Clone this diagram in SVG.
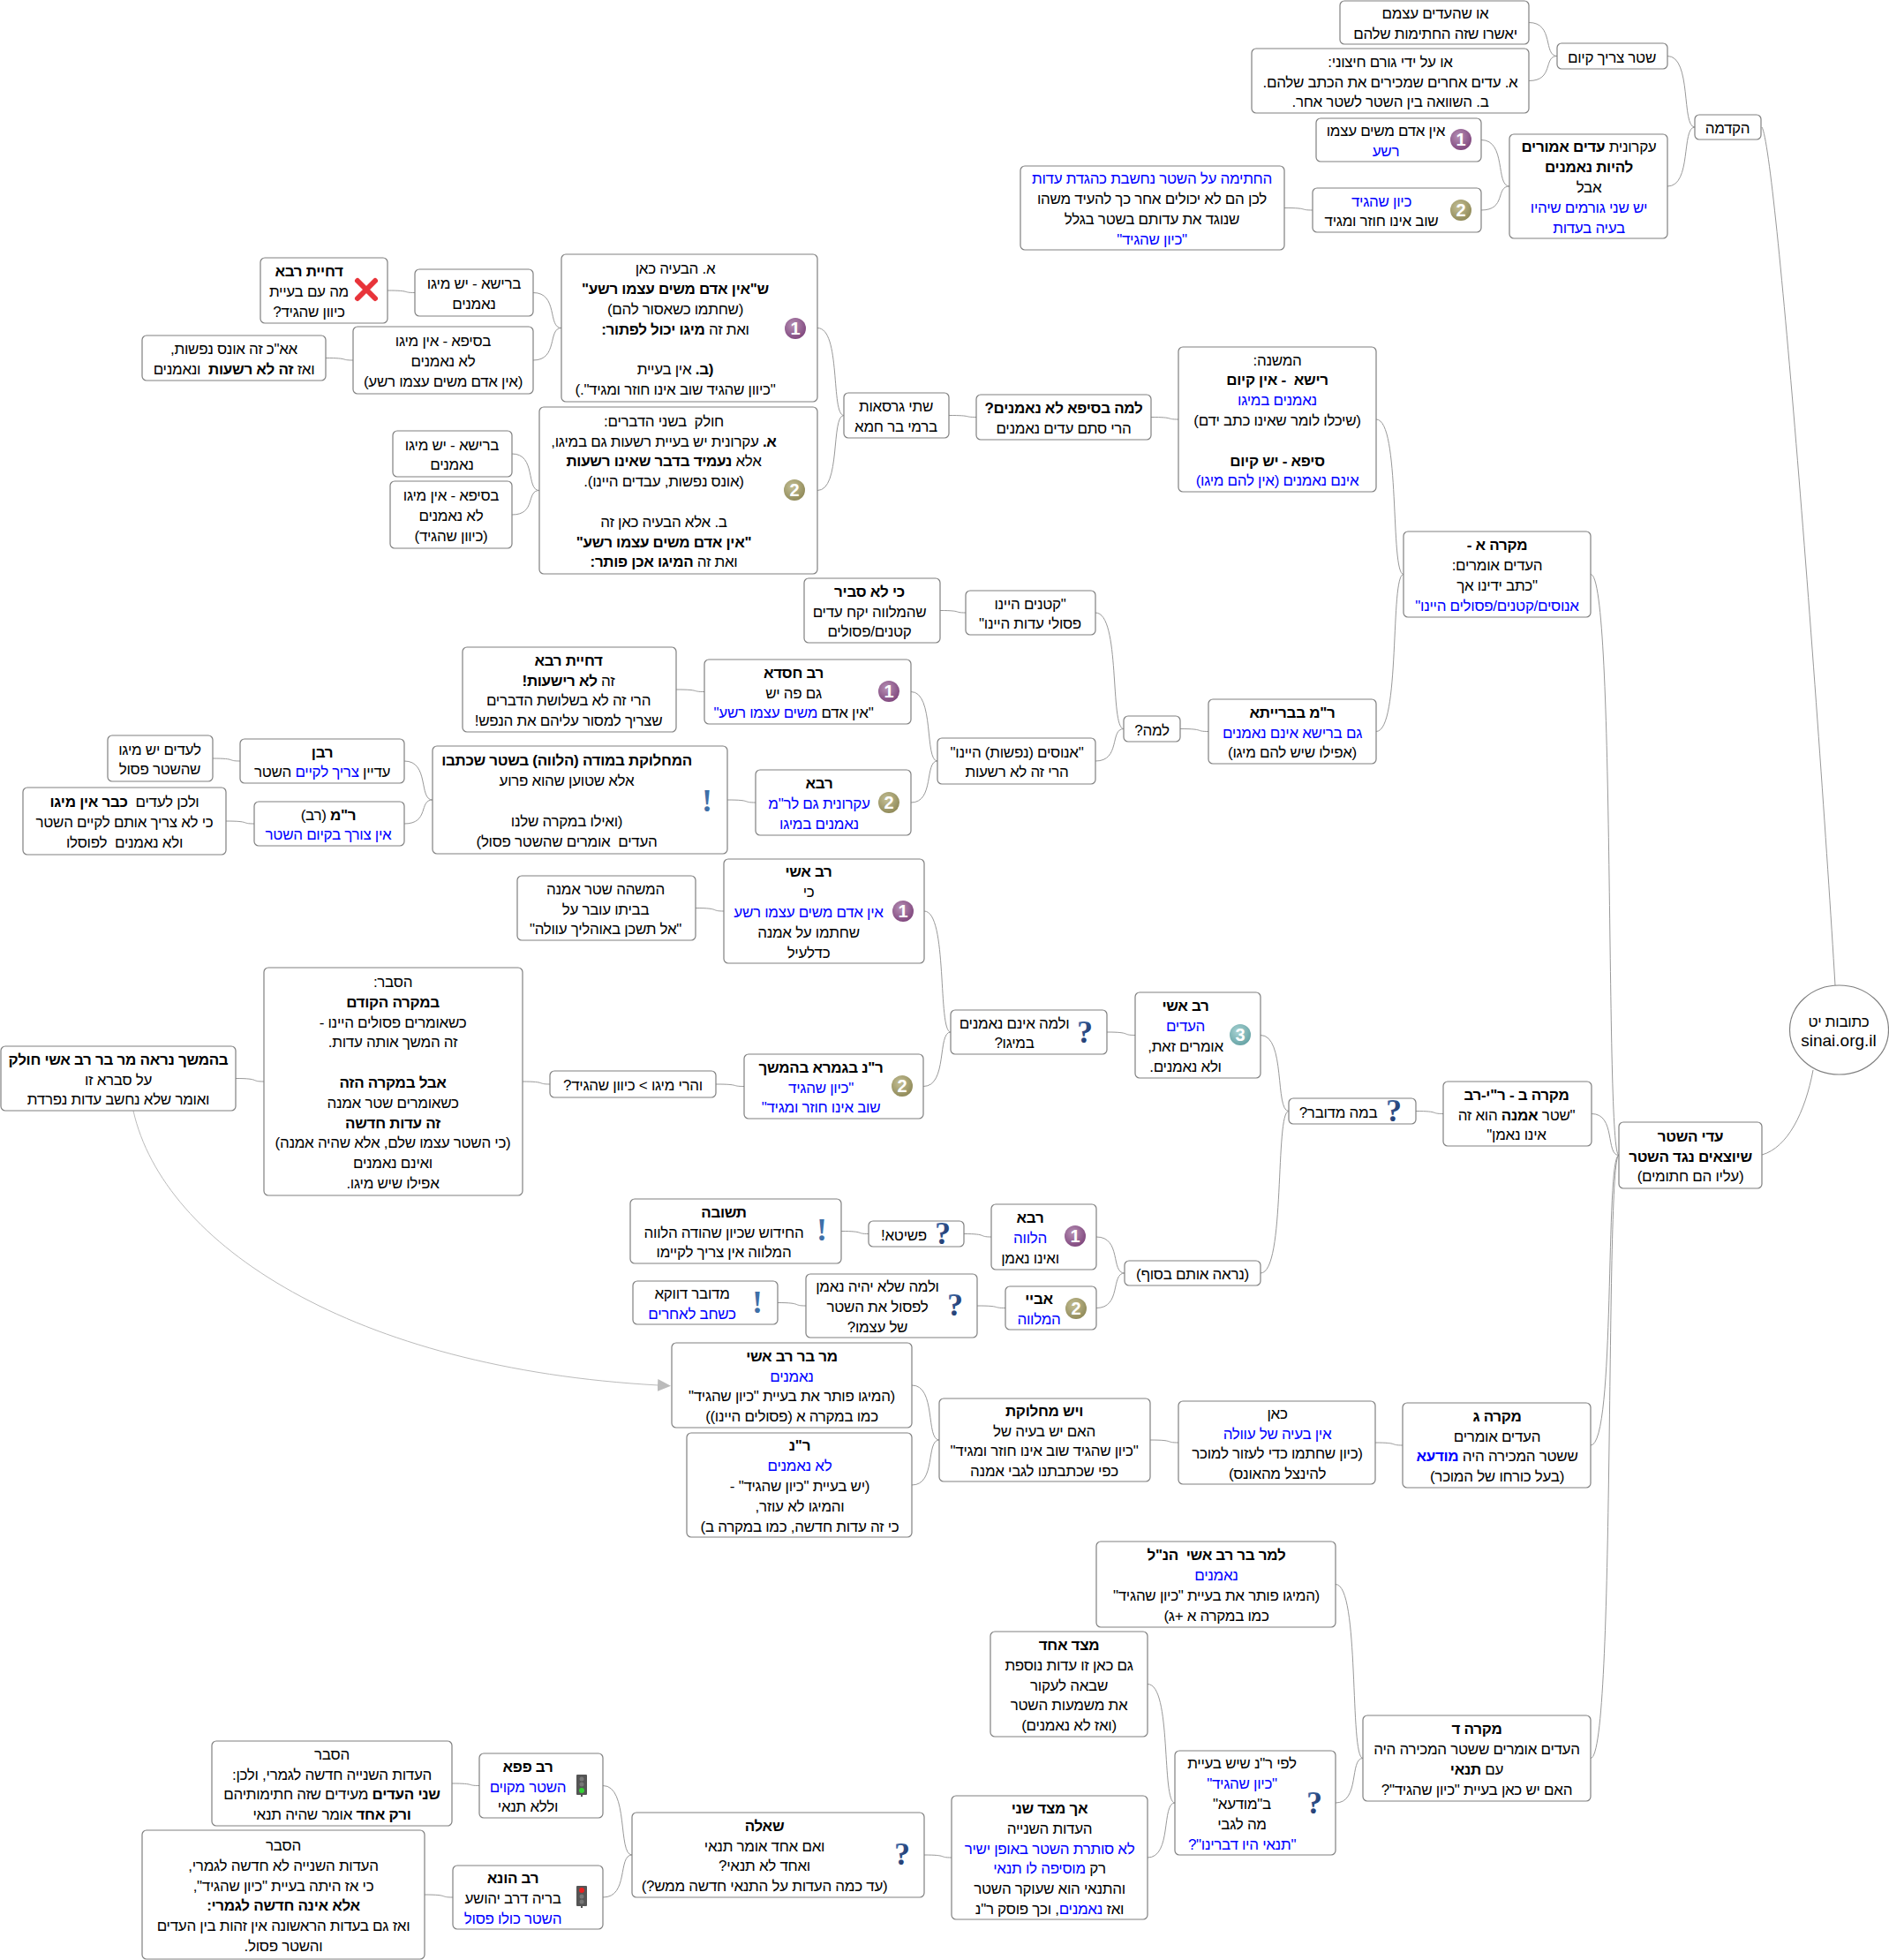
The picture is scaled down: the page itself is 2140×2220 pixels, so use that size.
<svg xmlns="http://www.w3.org/2000/svg" width="2140" height="2220" viewBox="0 0 2140 2220">
<style>
text{font-family:"Liberation Sans","DejaVu Sans",sans-serif;font-size:17px;letter-spacing:-.3px;text-anchor:middle;direction:rtl;fill:#000;white-space:pre}
.n{fill:#fff;stroke:#808080;stroke-width:1.2}
.b{font-weight:bold}
tspan.u,text.u{fill:#00f}
#conn path{fill:none;stroke:#999;stroke-width:1}
#conn path.x{stroke:#bbb}
text.d{font-size:20px;letter-spacing:0;fill:#fff;direction:ltr;font-weight:bold}
text.q{font-family:"Liberation Serif",serif;font-size:36px;letter-spacing:0;font-weight:bold;fill:url(#gq);direction:ltr}
text.e{font-family:"Liberation Serif",serif;font-size:36px;letter-spacing:0;font-weight:bold;fill:#3f6fa8;direction:ltr}
text.l{font-size:19px;letter-spacing:0;direction:ltr}
.tl{fill:#555}
</style>
<defs>
<radialGradient id="g1" cx=".4" cy=".35" r=".75"><stop offset="0" stop-color="#b690b4"/><stop offset="1" stop-color="#7a3f78"/></radialGradient>
<radialGradient id="g2" cx=".4" cy=".35" r=".75"><stop offset="0" stop-color="#c4bf95"/><stop offset="1" stop-color="#8a8452"/></radialGradient>
<radialGradient id="g3" cx=".4" cy=".35" r=".75"><stop offset="0" stop-color="#a9d3d3"/><stop offset="1" stop-color="#5f9ea0"/></radialGradient>
<linearGradient id="gq" x1="0" y1="0" x2="1" y2="1"><stop offset="0" stop-color="#4a78b8"/><stop offset="1" stop-color="#10204f"/></linearGradient>
<marker id="arr" markerUnits="userSpaceOnUse" markerWidth="16" markerHeight="16" refX="1" refY="8" orient="auto"><path d="M0,1 L15,8 L0,15 Z" fill="#bbb"/></marker>
</defs>
<g id="conn">
<path d="M1732,25.5 C1760.8,25.5 1748,63.5 1764,63.5"/>
<path d="M1732,91.5 C1760.8,91.5 1748,63.5 1764,63.5"/>
<path d="M1889,63.5 C1916.9,63.5 1904.5,144 1920,144"/>
<path d="M1889,211 C1916.9,211 1904.5,144 1920,144"/>
<path d="M1678,158.5 C1706.8,158.5 1694,211 1710,211"/>
<path d="M1678,238 C1706.8,238 1694,211 1710,211"/>
<path d="M1455,235.5 C1483.8,235.5 1471,238 1487,238"/>
<path d="M1802,650.5 C1830.8,650.5 1818,1308.5 1834,1308.5"/>
<path d="M1803,1261.5 C1830.9,1261.5 1818.5,1308.5 1834,1308.5"/>
<path d="M1802,1637 C1830.8,1637 1818,1308.5 1834,1308.5"/>
<path d="M1802,1991.5 C1830.8,1991.5 1818,1308.5 1834,1308.5"/>
<path d="M1559,475 C1586.9,475 1574.5,650.5 1590,650.5"/>
<path d="M1559,828.5 C1586.9,828.5 1574.5,650.5 1590,650.5"/>
<path d="M1304,472.5 C1331.9,472.5 1319.5,475 1335,475"/>
<path d="M1075,470.5 C1102.9,470.5 1090.5,472.5 1106,472.5"/>
<path d="M926,371.5 C953,371.5 941,470.5 956,470.5"/>
<path d="M926,555.5 C953,555.5 941,470.5 956,470.5"/>
<path d="M604,331.5 C632.8,331.5 620,371.5 636,371.5"/>
<path d="M604,408 C632.8,408 620,371.5 636,371.5"/>
<path d="M439,329 C466.9,329 454.5,331.5 470,331.5"/>
<path d="M369,405.5 C396.9,405.5 384.5,408 400,408"/>
<path d="M580,514 C607.9,514 595.5,555.5 611,555.5"/>
<path d="M580,583 C607.9,583 595.5,555.5 611,555.5"/>
<path d="M1337,825.5 C1365.8,825.5 1353,828.5 1369,828.5"/>
<path d="M1241,694 C1269.8,694 1257,825.5 1273,825.5"/>
<path d="M1241,862 C1269.8,862 1257,825.5 1273,825.5"/>
<path d="M1065,691.5 C1091.1,691.5 1079.5,694 1094,694"/>
<path d="M1032,783.5 C1059,783.5 1047,862 1062,862"/>
<path d="M1032,909 C1059,909 1047,862 1062,862"/>
<path d="M766,781 C794.8,781 782,783.5 798,783.5"/>
<path d="M824,906 C852.8,906 840,909 856,909"/>
<path d="M458,862 C486.8,862 474,906 490,906"/>
<path d="M458,933 C486.8,933 474,906 490,906"/>
<path d="M241,859 C268.9,859 256.5,862 272,862"/>
<path d="M256,930 C284.8,930 272,933 288,933"/>
<path d="M1604,1258.5 C1631.9,1258.5 1619.5,1261.5 1635,1261.5"/>
<path d="M1428,1172.5 C1456.8,1172.5 1444,1258.5 1460,1258.5"/>
<path d="M1428,1442 C1456.8,1442 1444,1258.5 1460,1258.5"/>
<path d="M1254,1169 C1282.8,1169 1270,1172.5 1286,1172.5"/>
<path d="M1047,1032 C1074,1032 1062,1169 1077,1169"/>
<path d="M1046,1230.5 C1073.9,1230.5 1061.5,1169 1077,1169"/>
<path d="M788,1028.5 C816.8,1028.5 804,1032 820,1032"/>
<path d="M811,1228 C839.8,1228 827,1230.5 843,1230.5"/>
<path d="M592,1225 C619.9,1225 607.5,1228 623,1228"/>
<path d="M267,1221.5 C295.8,1221.5 283,1225 299,1225"/>
<path d="M1242,1401 C1270.8,1401 1258,1442 1274,1442"/>
<path d="M1242,1481.5 C1270.8,1481.5 1258,1442 1274,1442"/>
<path d="M1092,1397.5 C1119.9,1397.5 1107.5,1401 1123,1401"/>
<path d="M953,1394.5 C980.9,1394.5 968.5,1397.5 984,1397.5"/>
<path d="M1107,1479 C1135.8,1479 1123,1481.5 1139,1481.5"/>
<path d="M881,1475.5 C909.8,1475.5 897,1479 913,1479"/>
<path d="M1558,1634 C1585.9,1634 1573.5,1637 1589,1637"/>
<path d="M1303,1631 C1331.8,1631 1319,1634 1335,1634"/>
<path d="M1033,1569 C1060.9,1569 1048.5,1631 1064,1631"/>
<path d="M1033,1682 C1060.9,1682 1048.5,1631 1064,1631"/>
<path d="M1513,1794.5 C1540.9,1794.5 1528.5,1991.5 1544,1991.5"/>
<path d="M1513,2042 C1540.9,2042 1528.5,1991.5 1544,1991.5"/>
<path d="M1300,1907.5 C1327.9,1907.5 1315.5,2042 1331,2042"/>
<path d="M1300,2104 C1327.9,2104 1315.5,2042 1331,2042"/>
<path d="M1047,2101 C1074.9,2101 1062.5,2104 1078,2104"/>
<path d="M683,2022.5 C712.7,2022.5 699.5,2101 716,2101"/>
<path d="M683,2149 C712.7,2149 699.5,2101 716,2101"/>
<path d="M512,2020 C539.9,2020 527.5,2022.5 543,2022.5"/>
<path d="M481,2146 C509.8,2146 497,2149 513,2149"/>
<path d="M1996,144 C2012,170 2060,800 2079,1116"/>
<path d="M1996,1308 C2025,1300 2045,1260 2054,1212"/>
<path class="x" d="M151,1258 C185,1410 400,1550 746,1569" marker-end="url(#arr)"/>
</g>
<g id="n01"><rect class="n" x="1518" y="1" width="214" height="49" rx="5"/><text x="1626" y="21">או שהעדים עצמם</text><text x="1626" y="44">יאשרו שזה החתימות שלהם</text></g>
<g id="n02"><rect class="n" x="1418" y="55" width="314" height="73" rx="5"/><text x="1575" y="75.7">או על ידי גורם חיצוני:</text><text x="1575" y="98.5">א. עדים אחרים שמכירים את הכתב שלהם.</text><text x="1575" y="121.3">ב. השוואה בין השטר לשטר אחר.</text></g>
<g id="n03"><rect class="n" x="1764" y="49" width="125" height="29" rx="5"/><text x="1826" y="70.5">שטר צריך קיום</text></g>
<g id="n04"><rect class="n" x="1920" y="130" width="75" height="28" rx="5"/><text x="1957" y="151">הקדמה</text></g>
<g id="n05"><rect class="n" x="1491" y="134" width="187" height="49" rx="5"/><text x="1570" y="154">אין אדם משים עצמו</text><text class="u" x="1570" y="177">רשע</text><circle cx="1655" cy="158" r="12" fill="url(#g1)"/><text class="d" x="1655" y="165">1</text></g>
<g id="n06"><rect class="n" x="1487" y="213" width="191" height="50" rx="5"/><text class="u" x="1565" y="233.6">כיון שהגיד</text><text x="1565" y="256.4">שוב אינו חוזר ומגיד</text><circle cx="1655" cy="238" r="12" fill="url(#g2)"/><text class="d" x="1655" y="245">2</text></g>
<g id="n07"><rect class="n" x="1156" y="188" width="299" height="95" rx="5"/><text class="u" x="1305" y="208.3">החתימה על השטר נחשבת כהגדת עדות</text><text x="1305" y="231.1">לכן הם לא יכולים אחר כך להעיד משהו</text><text x="1305" y="253.9">שנוגד את עדותם בשטר בגלל</text><text class="u" x="1305" y="276.7">"כיון שהגיד"</text></g>
<g id="n08"><rect class="n" x="1710" y="152" width="179" height="118" rx="5"/><text x="1800" y="172.4">עקרונית <tspan class="b">עדים אמורים</tspan></text><text class="b" x="1800" y="195.2">להיות נאמנים</text><text x="1800" y="218">אבל</text><text class="u" x="1800" y="240.8">יש שני גורמים שיהיו</text><text class="u" x="1800" y="263.6">בעיה בעדות</text></g>
<g id="n09"><rect class="n" x="1335" y="393" width="224" height="164" rx="5"/><text x="1447" y="413.6">המשנה:</text><text class="b" x="1447" y="436.4">רישא  - אין קיום</text><text class="u" x="1447" y="459.2">נאמנים במיגו</text><text x="1447" y="482">(שיכלו לומר שאינו כתב ידם)</text><text class="b" x="1447" y="527.6">סיפא - יש קיום</text><text class="u" x="1447" y="550.4">אינם נאמנים (אין להם מיגו)</text></g>
<g id="n10"><rect class="n" x="1106" y="447" width="198" height="51" rx="5"/><text class="b" x="1205" y="468">למה בסיפא לא נאמנים?</text><text x="1205" y="491">הרי סתם עדים נאמנים</text></g>
<g id="n11"><rect class="n" x="956" y="445" width="119" height="51" rx="5"/><text x="1015" y="466">שתי גרסאות</text><text x="1015" y="489">ברמי בר חמא</text></g>
<g id="n12"><rect class="n" x="636" y="288" width="290" height="167" rx="5"/><text x="765" y="310">א. הבעיה כאן</text><text class="b" x="765" y="333">ש"אין אדם משים עצמו רשע"</text><text x="765" y="356">(שחתמו כשאסור להם)</text><text x="765" y="378.5">ואת זה <tspan class="b">מיגו יכול לפתור:</tspan></text><text x="765" y="424"><tspan class="b">(ב.</tspan> אין בעיית</text><text x="765" y="447">"כיוון שהגיד שוב אינו חוזר ומגיד".)</text><circle cx="901" cy="372" r="12" fill="url(#g1)"/><text class="d" x="901" y="379">1</text></g>
<g id="n13"><rect class="n" x="611" y="461" width="315" height="189" rx="5"/><text x="752" y="482.7">חולק  בשני הדברים:</text><text x="752" y="505.5"><tspan class="b">א.</tspan> עקרונית יש בעיית רשעות גם במיגו,</text><text x="752" y="528.3">אלא <tspan class="b">נעמיד בדבר שאינו רשעות</tspan></text><text x="752" y="551.1">(אונס נפשות, עבדים היינו).</text><text x="752" y="596.7">ב. אלא הבעיה כאן זה</text><text class="b" x="752" y="619.5">"אין אדם משים עצמו רשע"</text><text x="752" y="642.3">ואת זה <tspan class="b">המיגו אכן פותר:</tspan></text><circle cx="900" cy="555" r="12" fill="url(#g2)"/><text class="d" x="900" y="562">2</text></g>
<g id="n14"><rect class="n" x="470" y="305" width="134" height="53" rx="5"/><text x="537" y="327">ברישא - יש מיגו</text><text x="537" y="350">נאמנים</text></g>
<g id="n15"><rect class="n" x="295" y="292" width="144" height="74" rx="5"/><text class="b" x="350" y="313">דחיית רבא</text><text x="350" y="336">מה עם בעיית</text><text x="350" y="359">כיוון שהגיד?</text><path d="M405,318 L425,338 M425,318 L405,338" stroke="#e8343a" stroke-width="6" stroke-linecap="round" fill="none"/></g>
<g id="n16"><rect class="n" x="400" y="370" width="204" height="76" rx="5"/><text x="502" y="392">בסיפא - אין מיגו</text><text x="502" y="415">לא נאמנים</text><text x="502" y="438">(אין אדם משים עצמו רשע)</text></g>
<g id="n17"><rect class="n" x="161" y="380" width="208" height="51" rx="5"/><text x="265" y="401">אא"כ זה אונס נפשות,</text><text x="265" y="424">ואז <tspan class="b">זה לא רשעות</tspan>  ונאמנים</text></g>
<g id="n18"><rect class="n" x="445" y="488" width="135" height="52" rx="5"/><text x="512" y="509.6">ברישא - יש מיגו</text><text x="512" y="532.4">נאמנים</text></g>
<g id="n19"><rect class="n" x="442" y="545" width="138" height="76" rx="5"/><text x="511" y="567">בסיפא - אין מיגו</text><text x="511" y="590">לא נאמנים</text><text x="511" y="613">(כיוון שהגיד)</text></g>
<g id="n20"><rect class="n" x="911" y="655" width="154" height="73" rx="5"/><text class="b" x="985" y="675.7">כי לא סביר</text><text x="985" y="698.5">שהמלווה יקח עדים</text><text x="985" y="721.3">קטנים/פסולים</text></g>
<g id="n21"><rect class="n" x="1094" y="669" width="147" height="50" rx="5"/><text x="1167" y="689.6">"קטנים היינו</text><text x="1167" y="712.4">פסולי עדות היינו"</text></g>
<g id="n22"><rect class="n" x="1062" y="836" width="179" height="52" rx="5"/><text x="1152" y="857.6">"אנוסים (נפשות) היינו"</text><text x="1152" y="880.4">הרי זה לא רשעות</text></g>
<g id="n23"><rect class="n" x="1273" y="811" width="64" height="29" rx="5"/><text x="1305" y="832.5">למה?</text></g>
<g id="n24"><rect class="n" x="1369" y="792" width="190" height="73" rx="5"/><text class="b" x="1464" y="812.7">ר"מ בברייתא</text><text class="u" x="1464" y="835.5">גם ברישא אינם נאמנים</text><text x="1464" y="858.3">(אפילו שיש להם מיגו)</text></g>
<g id="n25"><rect class="n" x="1590" y="602" width="212" height="97" rx="5"/><text class="b" x="1696" y="623.3">מקרה א -</text><text x="1696" y="646.1">העדים אומרים:</text><text x="1696" y="668.9">"כתב ידינו אך</text><text class="u" x="1696" y="691.7">אנוסים/קטנים/פסולים היינו"</text></g>
<g id="n26"><rect class="n" x="524" y="733" width="242" height="96" rx="5"/><text class="b" x="644" y="753.8">דחיית רבא</text><text x="644" y="776.6">זה <tspan class="b">לא רישעות!</tspan></text><text x="644" y="799.4">הרי זה לא בשלושת הדברים</text><text x="644" y="822.2">שצריך למסור עליהם את הנפש!</text></g>
<g id="n27"><rect class="n" x="798" y="747" width="234" height="73" rx="5"/><text class="b" x="899" y="767.7">רב חסדא</text><text x="899" y="790.5">גם פה יש</text><text x="899" y="813.3">"אין אדם <tspan class="u">משים עצמו רשע"</tspan></text><circle cx="1007" cy="783" r="12" fill="url(#g1)"/><text class="d" x="1007" y="790">1</text></g>
<g id="n28"><rect class="n" x="272" y="837" width="186" height="50" rx="5"/><text class="b" x="365" y="857.6">רבן</text><text x="365" y="880.4">עדיין <tspan class="u">צריך לקיים</tspan> השטר</text></g>
<g id="n29"><rect class="n" x="122" y="833" width="119" height="52" rx="5"/><text x="181" y="854.6">לעדים יש מיגו</text><text x="181" y="877.4">שהשטר פסול</text></g>
<g id="n30"><rect class="n" x="26" y="892" width="230" height="76" rx="5"/><text x="141" y="914">ולכן לעדים  <tspan class="b">כבר אין מיגו</tspan></text><text x="141" y="937">כי לא צריך אותם לקיים השטר</text><text x="141" y="960">ולא נאמנים  לפוסלו</text></g>
<g id="n31"><rect class="n" x="288" y="908" width="170" height="50" rx="5"/><text x="372" y="928.6"><tspan class="b">ר"מ</tspan> (רב)</text><text class="u" x="372" y="951.4">אין צורך בקיום השטר</text></g>
<g id="n32"><rect class="n" x="490" y="845" width="334" height="122" rx="5"/><text class="b" x="642" y="867.4">המחלוקת במודה (הלווה) בשטר שכתבו</text><text x="642" y="890.2">אלא שטוען שהוא פרוע</text><text x="642" y="935.8">(ואילו במקרה שלנו</text><text x="642" y="958.6">העדים  אומרים שהשטר פסול)</text><text class="e" x="801" y="919">!</text></g>
<g id="n33"><rect class="n" x="856" y="872" width="176" height="74" rx="5"/><text class="b" x="928" y="893">רבא</text><text class="u" x="928" y="916">עקרונית גם לר"מ</text><text class="u" x="928" y="939">נאמנים במיגו</text><circle cx="1007" cy="909" r="12" fill="url(#g2)"/><text class="d" x="1007" y="916">2</text></g>
<g id="n34"><rect class="n" x="586" y="992" width="202" height="73" rx="5"/><text x="686" y="1012.7">המשהה שטר אמנה</text><text x="686" y="1035.5">בביתו עובר על</text><text x="686" y="1058.3">"אל תשכן באוהליך עוולה"</text></g>
<g id="n35"><rect class="n" x="820" y="973" width="227" height="118" rx="5"/><text class="b" x="916" y="993.4">רב אשי</text><text x="916" y="1016.2">כי</text><text class="u" x="916" y="1039">אין אדם משים עצמו רשע</text><text x="916" y="1061.8">שחתמו על אמנה</text><text x="916" y="1084.6">כדלעיל</text><circle cx="1023" cy="1032" r="12" fill="url(#g1)"/><text class="d" x="1023" y="1039">1</text></g>
<g id="n36"><rect class="n" x="299" y="1096" width="293" height="258" rx="5"/><text x="445" y="1118">הסבר:</text><text class="b" x="445" y="1140.8">במקרה הקודם</text><text x="445" y="1163.6">כשאומרים פסולים היינו -</text><text x="445" y="1186.4">זה המשך אותה עדות.</text><text class="b" x="445" y="1232">אבל במקרה הזה</text><text x="445" y="1254.8">כשאומרים שטר אמנה</text><text class="b" x="445" y="1277.6">זה עדות חדשה</text><text x="445" y="1300.4">(כי השטר עצמו שלם, אלא שהיה אמנה)</text><text x="445" y="1323.2">ואינם נאמנים</text><text x="445" y="1346">אפילו שיש מיגו.</text></g>
<g id="n37"><rect class="n" x="1" y="1185" width="266" height="73" rx="5"/><text class="b" x="134" y="1205.7">בהמשך נראה מר בר רב אשי חולק</text><text x="134" y="1228.5">על סברא זו</text><text x="134" y="1251.3">ואומר שלא נחשב עדות נפרדת</text></g>
<g id="n38"><rect class="n" x="623" y="1213" width="188" height="30" rx="5"/><text x="717" y="1235">והרי מיגו &gt; כיוון שהגיד?</text></g>
<g id="n39"><rect class="n" x="843" y="1194" width="203" height="73" rx="5"/><text class="b" x="930" y="1214.7">ר"נ בגמרא בהמשך</text><text class="u" x="930" y="1237.5">"כיון שהגיד</text><text class="u" x="930" y="1260.3">שוב אינו חוזר ומגיד"</text><circle cx="1022" cy="1230" r="12" fill="url(#g2)"/><text class="d" x="1022" y="1237">2</text></g>
<g id="n40"><rect class="n" x="1077" y="1144" width="177" height="50" rx="5"/><text x="1149" y="1164.6">ולמה אינם נאמנים</text><text x="1149" y="1187.4">במיגו?</text><text class="q" x="1229" y="1181">?</text></g>
<g id="n41"><rect class="n" x="1286" y="1124" width="142" height="97" rx="5"/><text class="b" x="1343" y="1145.3">רב אשי</text><text class="u" x="1343" y="1168.1">העדים</text><text x="1343" y="1190.9">אומרים זאת,</text><text x="1343" y="1213.7">ולא נאמנים.</text><circle cx="1405" cy="1172" r="12" fill="url(#g3)"/><text class="d" x="1405" y="1179">3</text></g>
<g id="n42"><rect class="n" x="1460" y="1244" width="144" height="29" rx="5"/><text x="1516" y="1265.5">במה מדובר?</text><text class="q" x="1579" y="1270">?</text></g>
<g id="n43"><rect class="n" x="1635" y="1225" width="168" height="73" rx="5"/><text class="b" x="1718" y="1245.7">מקרה ב - ר"י-רב</text><text x="1718" y="1268.5">"שטר <tspan class="b">אמנה</tspan> הוא זה</text><text x="1718" y="1291.3">אינו נאמן"</text></g>
<g id="n44"><rect class="n" x="1834" y="1271" width="162" height="75" rx="5"/><text class="b" x="1915" y="1292.7">עדי השטר</text><text class="b" x="1915" y="1315.5">שיוצאים נגד השטר</text><text x="1915" y="1338.3">(עליו הם חתומים)</text></g>
<g id="n45"><ellipse class="n" cx="2083.5" cy="1166.5" rx="56" ry="50.5"/><text x="2083" y="1163">כתובות יט</text><text class="l" x="2083" y="1185">sinai.org.il</text></g>
<g id="n46"><rect class="n" x="714" y="1358" width="239" height="73" rx="5"/><text class="b" x="820" y="1378.7">תשובה</text><text x="820" y="1401.5">החידוש שכיון שהודה הלווה</text><text x="820" y="1424.3">המלווה אין צריך לקיימו</text><text class="e" x="931" y="1405">!</text></g>
<g id="n47"><rect class="n" x="984" y="1383" width="108" height="29" rx="5"/><text x="1024" y="1404.5">פשיטא!</text><text class="q" x="1068" y="1409">?</text></g>
<g id="n48"><rect class="n" x="1123" y="1364" width="119" height="74" rx="5"/><text class="b" x="1167" y="1385">רבא</text><text class="u" x="1167" y="1408">הלווה</text><text x="1167" y="1431">ואינו נאמן</text><circle cx="1218" cy="1400" r="12" fill="url(#g1)"/><text class="d" x="1218" y="1407">1</text></g>
<g id="n49"><rect class="n" x="1274" y="1428" width="154" height="28" rx="5"/><text x="1351" y="1449">(נראה אותם בסוף)</text></g>
<g id="n50"><rect class="n" x="913" y="1443" width="194" height="72" rx="5"/><text x="994" y="1463">ולמה שלא יהיה נאמן</text><text x="994" y="1486">לפסול את השטר</text><text x="994" y="1509">של עצמו?</text><text class="q" x="1082" y="1490">?</text></g>
<g id="n51"><rect class="n" x="717" y="1451" width="164" height="49" rx="5"/><text x="784" y="1471">מדובר דווקא</text><text class="u" x="784" y="1494">כשחב לאחרים</text><text class="e" x="858" y="1487">!</text></g>
<g id="n52"><rect class="n" x="1139" y="1457" width="103" height="49" rx="5"/><text class="b" x="1177" y="1477">אביי</text><text class="u" x="1177" y="1500">המלווה</text><circle cx="1219" cy="1482" r="12" fill="url(#g2)"/><text class="d" x="1219" y="1489">2</text></g>
<g id="n53"><rect class="n" x="761" y="1521" width="272" height="96" rx="5"/><text class="b" x="897" y="1541.8">מר בר רב אשי</text><text class="u" x="897" y="1564.6">נאמנים</text><text x="897" y="1587.4">(המיגו פותר את בעיית "כיון שהגיד"</text><text x="897" y="1610.2">כמו במקרה א (פסולים היינו))</text></g>
<g id="n54"><rect class="n" x="778" y="1623" width="255" height="118" rx="5"/><text class="b" x="906" y="1643.4">ר"נ</text><text class="u" x="906" y="1666.2">לא נאמנים</text><text x="906" y="1689">(יש בעיית "כיון שהגיד" -</text><text x="906" y="1711.8">והמיגו לא עוזר,</text><text x="906" y="1734.6">כי זה עדות חדשה, כמו במקרה ב)</text></g>
<g id="n55"><rect class="n" x="1064" y="1584" width="239" height="94" rx="5"/><text class="b" x="1183" y="1603.8">ויש מחלוקת</text><text x="1183" y="1626.6">האם יש בעיה של</text><text x="1183" y="1649.4">"כיון שהגיד שוב אינו חוזר ומגיד"</text><text x="1183" y="1672.2">כפי שכתבתנו לגבי אמנה</text></g>
<g id="n56"><rect class="n" x="1335" y="1587" width="223" height="94" rx="5"/><text x="1447" y="1606.8">כאן</text><text class="u" x="1447" y="1629.6">אין בעיה של עוולה</text><text x="1447" y="1652.4">(כיון שחתמו כדי לעזור למוכר</text><text x="1447" y="1675.2">להינצל מהאונס)</text></g>
<g id="n57"><rect class="n" x="1589" y="1589" width="213" height="96" rx="5"/><text class="b" x="1696" y="1609.8">מקרה ג</text><text x="1696" y="1632.6">העדים אומרים</text><text x="1696" y="1655.4">ששטר המכירה היה <tspan class="b u">מודעא</tspan></text><text x="1696" y="1678.2">(בעל כורחו של המוכר)</text></g>
<g id="n58"><rect class="n" x="1242" y="1746" width="271" height="97" rx="5"/><text class="b" x="1378" y="1767.3">למר בר רב אשי  הנ"ל</text><text class="u" x="1378" y="1790.1">נאמנים</text><text x="1378" y="1812.9">(המיגו פותר את בעיית "כיון שהגיד"</text><text x="1378" y="1835.7">כמו במקרה א +ג)</text></g>
<g id="n59"><rect class="n" x="1122" y="1848" width="178" height="119" rx="5"/><text class="b" x="1211" y="1868.9">מצד אחד</text><text x="1211" y="1891.7">גם כאן זו עדות נוספת</text><text x="1211" y="1914.5">שבאה לעקור</text><text x="1211" y="1937.3">את משמעות השטר</text><text x="1211" y="1960.1">(ואז לא נאמנים)</text></g>
<g id="n60"><rect class="n" x="1331" y="1983" width="182" height="118" rx="5"/><text x="1407" y="2003.4">לפי ר"נ שיש בעיית</text><text class="u" x="1407" y="2026.2">"כיון שהגיד"</text><text x="1407" y="2049">ב"מודעא"</text><text x="1407" y="2071.8">מה לגבי</text><text class="u" x="1407" y="2094.6">"תנאי היו דברינו"?</text><text class="q" x="1489" y="2054">?</text></g>
<g id="n61"><rect class="n" x="1544" y="1943" width="258" height="97" rx="5"/><text class="b" x="1673" y="1964.3">מקרה ד</text><text x="1673" y="1987.1">העדים אומרים ששטר המכירה היה</text><text x="1673" y="2009.9">עם <tspan class="b">תנאי</tspan></text><text x="1673" y="2032.7">האם יש כאן בעיית "כיון שהגיד"?</text></g>
<g id="n62"><rect class="n" x="1078" y="2034" width="222" height="140" rx="5"/><text class="b" x="1189" y="2054">אך מצד שני</text><text x="1189" y="2076.8">העדות השנייה</text><text class="u" x="1189" y="2099.6">לא סותרת השטר באופן ישיר</text><text x="1189" y="2122.4">רק <tspan class="u">מוסיפה לו תנאי</tspan></text><text x="1189" y="2145.2">והתנאי הוא שעוקר השטר</text><text x="1189" y="2168">ואז <tspan class="u">נאמנים</tspan>, וכך פוסק ר"נ</text></g>
<g id="n63"><rect class="n" x="716" y="2053" width="331" height="96" rx="5"/><text class="b" x="866" y="2073.8">שאלה</text><text x="866" y="2096.6">ואם אחד אומר תנאי</text><text x="866" y="2119.4">ואחד לא תנאי?</text><text x="866" y="2142.2">(עד כמה העדות על התנאי חדשה ממש?)</text><text class="q" x="1022" y="2112">?</text></g>
<g id="n64"><rect class="n" x="543" y="1986" width="140" height="73" rx="5"/><text class="b" x="598" y="2006.7">רב פפא</text><text class="u" x="598" y="2029.5">השטר מקוים</text><text x="598" y="2052.3">וללא תנאי</text><rect class="tl" x="653" y="2010" width="12" height="23" rx="1"/><rect class="tl" x="658" y="2033" width="2" height="2"/><circle cx="659" cy="2015" r="2.5" fill="#777"/><circle cx="659" cy="2021" r="2.5" fill="#777"/><circle cx="659" cy="2028" r="3" fill="#35d035"/></g>
<g id="n65"><rect class="n" x="240" y="1972" width="272" height="96" rx="5"/><text x="376" y="1992.8">הסבר</text><text x="376" y="2015.6">העדות השנייה חדשה לגמרי, ולכן:</text><text x="376" y="2038.4"><tspan class="b">שני העדים</tspan> מעידים שזה חתימותיהם</text><text x="376" y="2061.2"><tspan class="b">ורק אחד</tspan> אומר שהיה תנאי</text></g>
<g id="n66"><rect class="n" x="513" y="2113" width="170" height="72" rx="5"/><text class="b" x="581" y="2133">רב הונא</text><text x="581" y="2156">בריה דרב יהושע</text><text class="u" x="581" y="2179">השטר כולו פסול</text><rect class="tl" x="653" y="2136" width="12" height="23" rx="1"/><rect class="tl" x="658" y="2159" width="2" height="2"/><circle cx="659" cy="2141" r="3" fill="#e82020"/><circle cx="659" cy="2148" r="2.5" fill="#777"/><circle cx="659" cy="2154" r="2.5" fill="#777"/></g>
<g id="n67"><rect class="n" x="161" y="2073" width="320" height="146" rx="5"/><text x="321" y="2096">הסבר</text><text x="321" y="2118.8">העדות השנייה לא חדשה לגמרי,</text><text x="321" y="2141.6">כי אז היתה בעיית "כיון שהגיד",</text><text class="b" x="321" y="2164.4">אלא אינה חדשה לגמרי:</text><text x="321" y="2187.2">ואז גם בעדות הראשונה אין זהות בין העדים</text><text x="321" y="2210">והשטר פסול.</text></g>
</svg>
